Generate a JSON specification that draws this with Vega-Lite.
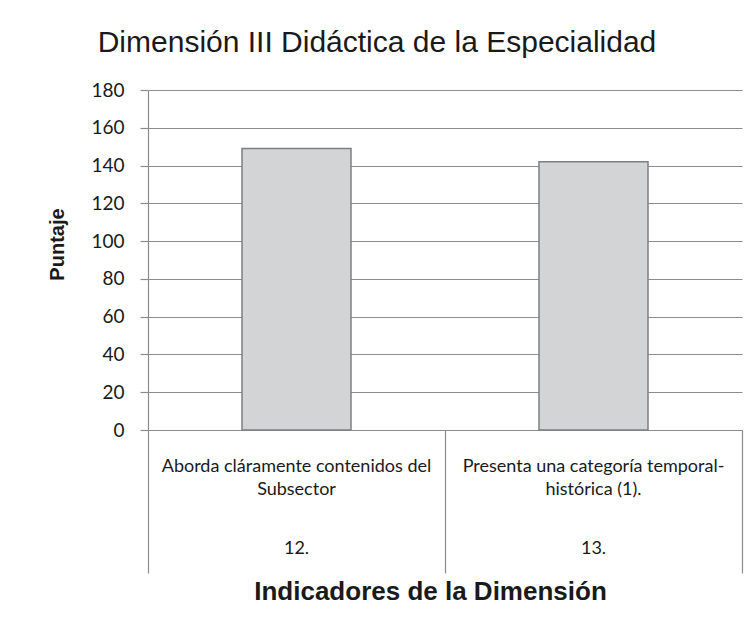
{
  "$schema": "https://vega.github.io/schema/vega-lite/v6.json",
  "autosize": {"type": "none"},
  "width": 594,
  "height": 340,
  "padding": {"left": 148, "top": 90, "right": 12, "bottom": 200},
  "background": "white",
  "title": {
    "text": "Dimensión III Didáctica de la Especialidad",
    "font": "Liberation Sans",
    "fontSize": 30,
    "fontWeight": "normal",
    "color": "#1a1a1a",
    "anchor": "middle",
    "dx": -68,
    "offset": 23
  },
  "data": {
    "values": [
      {"indicador": "Aborda cláramente contenidos del Subsector", "numero": "12.", "puntaje": 149},
      {"indicador": "Presenta una categoría temporal-histórica (1).", "numero": "13.", "puntaje": 142}
    ]
  },
  "encoding": {
    "x": {
      "field": "indicador",
      "type": "nominal",
      "sort": null,
      "scale": {"paddingInner": 0, "paddingOuter": 0}
    },
    "y": {
      "field": "puntaje",
      "type": "quantitative",
      "scale": {"domain": [0, 180], "nice": false},
      "axis": {
        "title": "Puntaje",
        "titleFont": "Liberation Sans",
        "titleFontSize": 20,
        "titleFontWeight": "bold",
        "titleColor": "#1a1a1a",
        "titleX": -91,
        "titleY": 154,
        "titleBaseline": "middle",
        "titleAlign": "center",
        "values": [0, 20, 40, 60, 80, 100, 120, 140, 160, 180],
        "labelFont": "Lato",
        "labelFontSize": 19,
        "labelColor": "#1a1a1a",
        "labelPadding": 16,
        "tickSize": 8,
        "tickColor": "#8c8c8c",
        "tickWidth": 1.2,
        "domainColor": "#8c8c8c",
        "domainWidth": 1.2,
        "grid": true,
        "gridColor": "#8c8c8c",
        "gridWidth": 1.2
      }
    }
  },
  "layer": [
    {
      "mark": {"type": "bar", "fill": "#d3d4d6", "stroke": "#7f7f7f", "strokeWidth": 1.5, "width": {"band": 0.367}},
      "encoding": {
        "x": {
          "field": "indicador",
          "type": "nominal",
          "sort": null,
          "scale": {"paddingInner": 0, "paddingOuter": 0},
          "axis": {
            "orient": "bottom",
            "title": "Indicadores de la Dimensión",
            "titleFont": "Liberation Sans",
            "titleFontSize": 26,
            "titleFontWeight": "bold",
            "titleColor": "#1a1a1a",
            "titleX": 282,
            "titleY": 161,
            "titleBaseline": "middle",
            "titleAlign": "center",
            "labelAngle": 0,
            "labelAlign": "center",
            "labelFont": "Lato",
            "labelFontSize": 18,
            "labelColor": "#1a1a1a",
            "labelLimit": 0,
            "labelOverlap": false,
            "labelBaseline": "top",
            "labelLineHeight": 23,
            "labelPadding": 27,
            "labelExpr": "datum.value == 'Aborda cláramente contenidos del Subsector' ? ['Aborda cláramente contenidos del', 'Subsector'] : ['Presenta una categoría temporal-', 'histórica (1).']",
            "ticks": false,
            "tickSize": 0,
            "domainColor": "#8c8c8c",
            "domainWidth": 1.2,
            "grid": false
          }
        }
      }
    },
    {
      "mark": {"type": "bar", "opacity": 0, "width": {"band": 0.367}},
      "encoding": {
        "x": {
          "field": "indicador",
          "type": "nominal",
          "sort": null,
          "scale": {"paddingInner": 0, "paddingOuter": 0},
          "axis": {
            "orient": "bottom",
            "title": null,
            "labels": false,
            "domain": false,
            "grid": false,
            "tickBand": "extent",
            "tickSize": 143,
            "tickColor": "#8c8c8c",
            "tickWidth": 1.2
          }
        }
      }
    },
    {
      "mark": {"type": "bar", "opacity": 0, "width": {"band": 0.367}},
      "encoding": {
        "x": {
          "field": "indicador",
          "type": "nominal",
          "sort": null,
          "scale": {"paddingInner": 0, "paddingOuter": 0},
          "axis": {
            "orient": "bottom",
            "title": null,
            "domain": false,
            "grid": false,
            "ticks": false,
            "tickSize": 0,
            "labelAngle": 0,
            "labelAlign": "center",
            "labelBaseline": "middle",
            "labelFont": "Lato",
            "labelFontSize": 18,
            "labelColor": "#1a1a1a",
            "labelPadding": 118,
            "labelExpr": "datum.value == 'Aborda cláramente contenidos del Subsector' ? '12.' : '13.'"
          }
        }
      }
    }
  ],
  "resolve": {"axis": {"x": "independent"}},
  "config": {"view": {"stroke": null}}
}
